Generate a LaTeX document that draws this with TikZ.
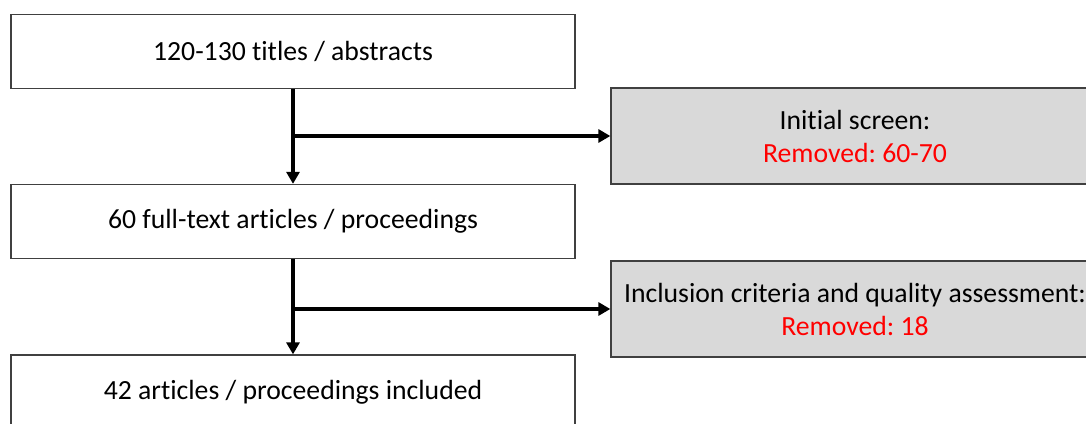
\documentclass[tikz,border=0pt]{standalone}
\usepackage{fontspec}
\setmainfont[Ligatures=NoCommon]{Carlito}
\usepackage{xcolor}
\usetikzlibrary{positioning,arrows.meta,calc}
\definecolor{cBox}{HTML}{D9D9D9}
\definecolor{cEdge}{HTML}{404040}
\definecolor{cRem}{HTML}{FF0000}
\frenchspacing

\begin{document}
\begin{tikzpicture}[
  x=1pt, y=-1pt,
  font=\fontsize{27.7}{33}\selectfont,
  blk/.style={draw=cEdge, line width=1.3pt, align=center, inner sep=0pt},
  stage/.style ={blk, fill=white, minimum width=564pt, minimum height=74pt},
  screen/.style={blk, fill=cBox, minimum width=488pt, minimum height=96pt},
  ar/.style={-{Triangle[length=12pt,width=13pt]}, draw=black, line width=3.6pt},
]
\useasboundingbox (0,0) rectangle (1086,423);
\clip (0,0) rectangle (1086,423);

\node[stage]  (t1) at (293,51.5)  {120-130 titles / abstracts};
\node[stage]  (t2) at (293,221.5) {60 full-text articles / proceedings};
\node[stage]  (t3) at (293,392)   {42 articles / proceedings included};

\node[screen] (s1) at (855,136) {Initial screen:\\\textcolor{cRem}{Removed: 60-70}};
\node[screen] (s2) at (855,309) {Inclusion criteria and quality assessment:\\\textcolor{cRem}{Removed: 18}};

\draw[ar] (t1) -- (t2);
\draw[ar] (t2) -- (t3);
% side branches to the screening steps
\draw[ar] (t1.south |- s1.west) -- (s1);
\draw[ar] (t2.south |- s2.west) -- (s2);
\end{tikzpicture}
\end{document}
